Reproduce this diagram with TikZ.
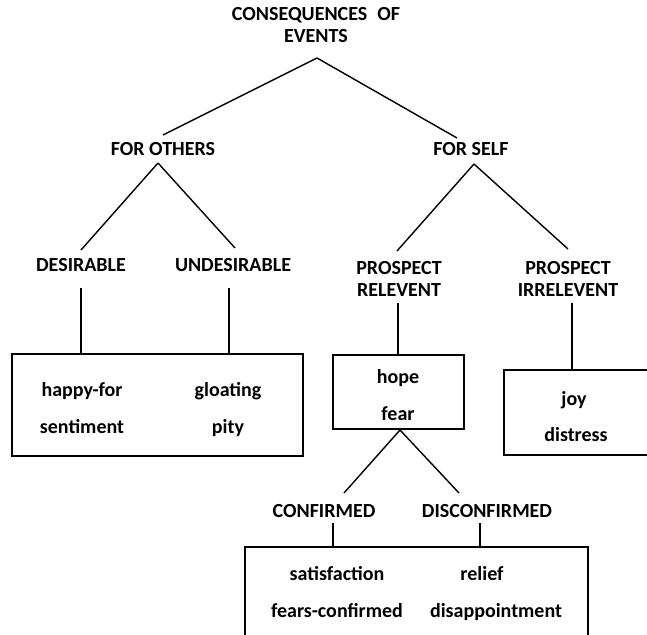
\documentclass[tikz,border=0pt]{standalone}
\usepackage{fontspec}
\setmainfont{Carlito}
\begin{document}
\begin{tikzpicture}[x=1pt,y=-1pt,
  lbl/.style={font=\bfseries\fontsize{20}{22}\selectfont, inner sep=0pt, anchor=base, align=center},
  wire/.style={line width=1.4pt},
  boxx/.style={draw, line width=1.4pt, inner sep=0pt, minimum width=#1}]
\useasboundingbox (0,0) rectangle (647,634);
\clip (0,0) rectangle (647,634);
% labels (multi-line labels are placed by the baseline of their last line)
\node[lbl] (title) at (316,43) {CONSEQUENCES\enspace OF\\EVENTS};
\node[lbl] (others) at (163,155) {FOR OTHERS};
\node[lbl] (self) at (471,155) {FOR SELF};
\node[lbl] (des) at (81,271) {DESIRABLE};
\node[lbl] (undes) at (233,271) {UNDESIRABLE};
\node[lbl] (rel) at (399,296) {PROSPECT\\RELEVENT};
\node[lbl] (irr) at (568,296) {PROSPECT\\IRRELEVENT};
\node[lbl] (conf) at (324,517) {CONFIRMED};
\node[lbl] (disc) at (487,517) {DISCONFIRMED};
% boxes
\node[boxx=291pt, minimum height=102pt] (boxA) at (157.5,405) {};
\node[boxx=131pt, minimum height=74pt] (boxB) at (398.5,392) {};
\node[boxx=176pt, minimum height=85pt] (boxC) at (592,412.5) {};
\node[boxx=343pt, minimum height=113pt] (boxD) at (416.5,603.5) {};
% box contents
\node[lbl] (happy) at (82,396) {happy-for};
\node[lbl] (sent) at (82,433) {sentiment};
\node[lbl] (gloat) at (228,396) {gloating};
\node[lbl] (pity) at (228,433) {pity};
\node[lbl] (hope) at (398,383) {hope};
\node[lbl] (fear) at (398,420) {fear};
\node[lbl] (joy) at (574,405) {joy};
\node[lbl] (dist) at (576,441) {distress};
\node[lbl] (satis) at (337,580) {satisfaction};
\node[lbl] (fconf) at (337,617) {fears-confirmed};
\node[lbl] (relief) at (482,580) {relief};
\node[lbl] (disap) at (496,617) {disappointment};
% junction points
\coordinate (tJ) at (317,58);
\coordinate (oT) at (163,135);
\coordinate (sT) at (457,138);
\coordinate (oJ) at (158,163);
\coordinate (dT) at (81,250);
\coordinate (uT) at (235,248);
\coordinate (sJ) at (474,164);
\coordinate (rT) at (397,251);
\coordinate (iT) at (568,249);
\coordinate (dB) at (81,288);
\coordinate (uB) at (229,288);
\coordinate (rB) at (398,303);
\coordinate (iB) at (572,303);
\coordinate (hJ) at (400,430);
\coordinate (cT) at (344,493);
\coordinate (xT) at (459,493);
\coordinate (cB) at (333,523);
\coordinate (xB) at (480,523);
% connectors
\draw[wire] (tJ) -- (oT);
\draw[wire] (tJ) -- (sT);
\draw[wire] (oJ) -- (dT);
\draw[wire] (oJ) -- (uT);
\draw[wire] (sJ) -- (rT);
\draw[wire] (sJ) -- (iT);
\draw[wire] (dB) -- (dB |- boxA.north);
\draw[wire] (uB) -- (uB |- boxA.north);
\draw[wire] (rB) -- (rB |- boxB.north);
\draw[wire] (iB) -- (iB |- boxC.north);
\draw[wire] (hJ) -- (cT);
\draw[wire] (hJ) -- (xT);
\draw[wire] (cB) -- (cB |- boxD.north);
\draw[wire] (xB) -- (xB |- boxD.north);
\end{tikzpicture}
\end{document}
